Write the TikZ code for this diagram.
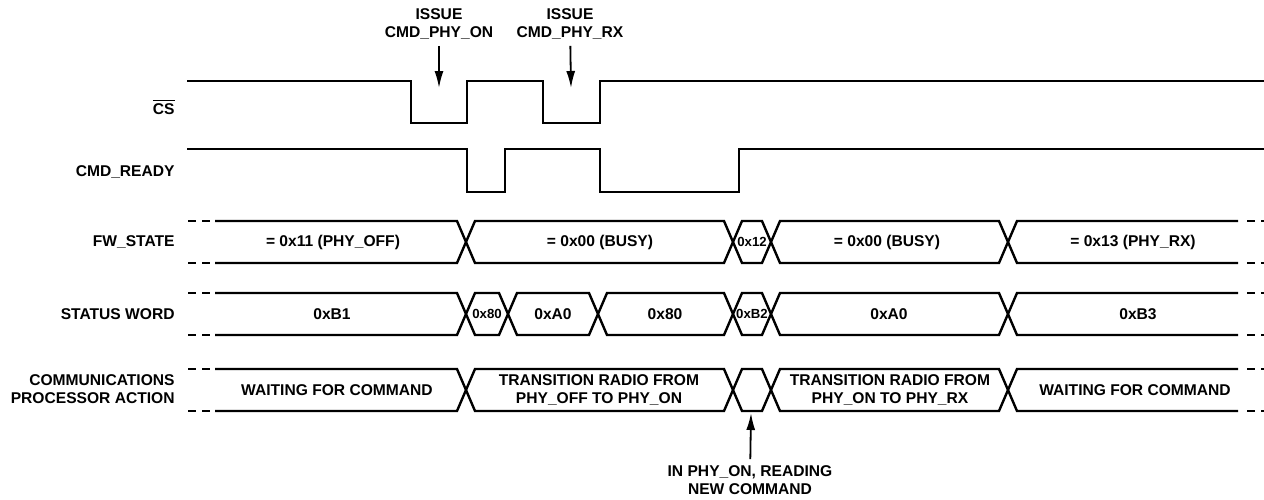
\documentclass[tikz,border=0pt]{standalone}
\usepackage{fontspec}
\setmainfont{Liberation Sans}
\usetikzlibrary{arrows.meta}
\tikzset{
  sig/.style={line width=1.2pt, line join=miter},
  endcap/.style={line width=1.2pt, dash pattern=on 4pt off 3pt},
  arrow/.style={line width=0.9pt, -{Latex[length=8.5pt,width=4.5pt]}},
  txt/.style={font=\bfseries\fontsize{7.8}{9}\selectfont, inner sep=0pt, align=center},
  tinytxt/.style={font=\bfseries\fontsize{6.6}{7}\selectfont, inner sep=0pt},
  rowlbl/.style={txt, anchor=east, align=right},
}
% one bus row: centre y, list of crossings
\newcommand{\busrow}[2]{%
  \draw[sig] (215,#1-21) \foreach \c [count=\i, evaluate=\i as \ya using {isodd(\i) ? #1-21 : #1+21}, evaluate=\i as \yb using {isodd(\i) ? #1+21 : #1-21}] in {#2} { -- (\c-9,\ya) -- (\c+9,\yb) } -- (1238,#1-21);
  \draw[sig] (215,#1+21) \foreach \c [count=\i, evaluate=\i as \ya using {isodd(\i) ? #1+21 : #1-21}, evaluate=\i as \yb using {isodd(\i) ? #1-21 : #1+21}] in {#2} { -- (\c-9,\ya) -- (\c+9,\yb) } -- (1238,#1+21);
  \draw[endcap] (188,#1-21) -- (210,#1-21) (188,#1+21) -- (210,#1+21)
                (1247,#1-21) -- (1264,#1-21) (1247,#1+21) -- (1264,#1+21);
}

\begin{document}
\begin{tikzpicture}[x=0.5pt,y=-0.5pt]
  \useasboundingbox (0,0) rectangle (1264,499);

  % row labels
  \node[rowlbl] (lcs) at (175,107) {$\overline{\mbox{\bfseries CS}}$};
  \node[rowlbl] (lrdy) at (175,172) {CMD\_READY};
  \node[rowlbl] (lfw) at (175,242) {FW\_STATE};
  \node[rowlbl] (lsw) at (175,314) {STATUS WORD};
  \node[rowlbl] (lcp) at (175,389) {COMMUNICATIONS\\PROCESSOR ACTION};

  % CS and CMD_READY
  \draw[sig] (187,81) -- (411,81) -- (411,123) -- (467,123) -- (467,81) -- (543,81)
             -- (543,123) -- (600,123) -- (600,81) -- (1264,81);
  \draw[sig] (187,149) -- (467,149) -- (467,192) -- (505,192) -- (505,149) -- (600,149)
             -- (600,192) -- (739,192) -- (739,149) -- (1264,149);

  % buses
  \busrow{242}{466,733,771,1008}
  \busrow{314}{466,508,598,733,771,1008}
  \busrow{390}{466,733,771,1008}

  % FW_STATE values
  \node[txt] (fw1) at (333,242) {= 0x11 (PHY\_OFF)};
  \node[txt] (fw2) at (600,242) {= 0x00 (BUSY)};
  \node[tinytxt] (fw3) at (752,242) {0x12};
  \node[txt] (fw4) at (887,242) {= 0x00 (BUSY)};
  \node[txt] (fw5) at (1133,242) {= 0x13 (PHY\_RX)};

  % status word values
  \node[txt] (sw1) at (332,314) {0xB1};
  \node[tinytxt] (sw2) at (487,314) {0x80};
  \node[txt] (sw3) at (553,314) {0xA0};
  \node[txt] (sw4) at (665,314) {0x80};
  \node[tinytxt] (sw5) at (752,314) {0xB2};
  \node[txt] (sw6) at (889,314) {0xA0};
  \node[txt] (sw7) at (1138,314) {0xB3};

  % processor actions
  \node[txt] (cp1) at (337,390) {WAITING FOR COMMAND};
  \node[txt] (cp2) at (599,390) {TRANSITION RADIO FROM\\PHY\_OFF TO PHY\_ON};
  \node[txt] (cp3) at (890,390) {TRANSITION RADIO FROM\\PHY\_ON TO PHY\_RX};
  \node[txt] (cp4) at (1135,390) {WAITING FOR COMMAND};

  % notes and arrows
  \node[txt] (issueon) at (439,24) {ISSUE\\CMD\_PHY\_ON};
  \node[txt] (issuerx) at (570,24) {ISSUE\\CMD\_PHY\_RX};
  \node[txt] (readnew) at (750,480) {IN PHY\_ON, READING\\NEW COMMAND};
  \coordinate (cson) at (439,88);
  \coordinate (csrx) at (571,88);
  \coordinate (gap) at (751,413);
  \draw[arrow, shorten <=3pt] (issueon) -- (cson);
  \draw[arrow, shorten <=3pt] (issuerx) -- (csrx);
  \draw[arrow, shorten <=3pt] (readnew) -- (gap);
\end{tikzpicture}
\end{document}
